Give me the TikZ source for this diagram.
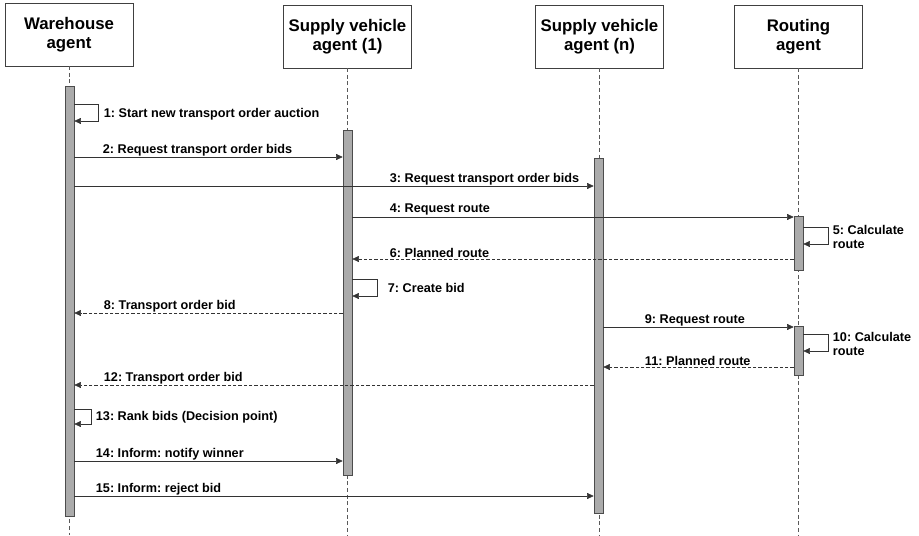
\documentclass[tikz,border=0pt]{standalone}
\usepackage{fontspec}
\setmainfont{Liberation Sans}
\usetikzlibrary{arrows.meta,positioning}
\frenchspacing

\begin{document}
\begin{tikzpicture}[
    x=0.75pt,
    y=-0.75pt,
    agent/.style={draw=black!75, fill=white, minimum width=96pt, minimum height=47pt, align=center, font=\fontsize{12.6}{14.3}\selectfont\bfseries},
    bar/.style={draw=black!70, fill=black!33, minimum width=6.75pt, inner sep=0pt},
    life/.style={draw=black!65, dash pattern=on 3pt off 2pt},
    msg/.style={draw=black!80, -{Triangle[length=5pt,width=4.5pt]}},
    reply/.style={msg, dash pattern=on 2.5pt off 1.5pt},
    lbl/.style={font=\fontsize{9.5}{10}\selectfont\bfseries, inner sep=0.5pt, align=left}
]
\useasboundingbox (0,0) rectangle (919,535);

% Agents
\node[agent] (wh) at (69,34.5) {Warehouse\\agent};
\node[agent] (sv1) at (347.5,36.5) {Supply vehicle\\agent (1)};
\node[agent] (svn) at (599.5,36.5) {Supply vehicle\\agent (n)};
\node[agent] (ra) at (798.5,36.5) {Routing\\agent};

% Lifelines
\foreach \a in {wh,sv1,svn,ra} {
  \draw[life] (\a.south) -- (\a.south |- 0,535);
}

% Activation bars
\node[bar, minimum height=322.5pt] (wbar) at (69.5,301) {};
\node[bar, minimum height=258.75pt] (s1bar) at (347.5,302.5) {};
\node[bar, minimum height=266.25pt] (snbar) at (598.5,335.5) {};
\node[bar, minimum height=40.5pt] (rbar1) at (798.5,243) {};
\node[bar, minimum height=36.75pt] (rbar2) at (798.5,350.5) {};

% 1
\draw[msg] (wbar.east |- 0,104) -- ++(24,0) |- (wbar.east |- 0,121);
\node[lbl, anchor=west] (l1) at (103,114) {1: Start new transport order auction};
% 2
\draw[msg] (wbar.east |- 0,157) -- (s1bar.west |- 0,157);
\node[lbl, anchor=south west] (l2) at (102,157) {2: Request transport order bids};
% 3
\draw[msg] (wbar.east |- 0,186) -- (snbar.west |- 0,186);
\node[lbl, anchor=south west] (l3) at (389,186) {3: Request transport order bids};
% 4
\draw[msg] (s1bar.east |- 0,217) -- (rbar1.west |- 0,217);
\node[lbl, anchor=south west] (l4) at (389,216) {4: Request route};
% 5
\draw[msg] (rbar1.east |- 0,227) -- ++(25,0) |- (rbar1.east |- 0,244);
\node[lbl, anchor=west] (l5) at (832,237) {5: Calculate\\route};
% 6
\draw[reply] (rbar1.west |- 0,259) -- (s1bar.east |- 0,259);
\node[lbl, anchor=south west] (l6) at (389,259) {6: Planned route};
% 7
\draw[msg] (s1bar.east |- 0,279) -- ++(25,0) |- (s1bar.east |- 0,296);
\node[lbl, anchor=west] (l7) at (387,288) {7: Create bid};
% 8
\draw[reply] (s1bar.west |- 0,313) -- (wbar.east |- 0,313);
\node[lbl, anchor=south west] (l8) at (103,313) {8: Transport order bid};
% 9
\draw[msg] (snbar.east |- 0,327) -- (rbar2.west |- 0,327);
\node[lbl, anchor=south west] (l9) at (644,327) {9: Request route};
% 10
\draw[msg] (rbar2.east |- 0,334) -- ++(25,0) |- (rbar2.east |- 0,351);
\node[lbl, anchor=west] (l10) at (832,344) {10: Calculate\\route};
% 11
\draw[reply] (rbar2.west |- 0,367) -- (snbar.east |- 0,367);
\node[lbl, anchor=south west] (l11) at (644,367) {11: Planned route};
% 12
\draw[reply] (snbar.west |- 0,385) -- (wbar.east |- 0,385);
\node[lbl, anchor=south west] (l12) at (103,385) {12: Transport order bid};
% 13
\draw[msg] (wbar.east |- 0,409) -- ++(17,0) |- (wbar.east |- 0,424);
\node[lbl, anchor=west] (l13) at (95,417) {13: Rank bids (Decision point)};
% 14
\draw[msg] (wbar.east |- 0,461) -- (s1bar.west |- 0,461);
\node[lbl, anchor=south west] (l14) at (95,461) {14: Inform: notify winner};
% 15
\draw[msg] (wbar.east |- 0,496) -- (snbar.west |- 0,496);
\node[lbl, anchor=south west] (l15) at (95,496) {15: Inform: reject bid};
\end{tikzpicture}
\end{document}
